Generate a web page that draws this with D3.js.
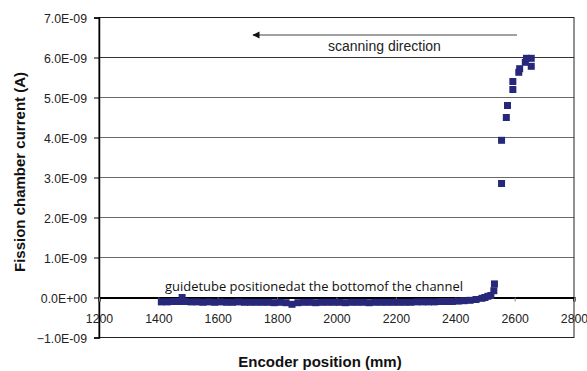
<!DOCTYPE html>
<html>
<head>
<meta charset="utf-8">
<script src="https://cdn.jsdelivr.net/npm/d3@7"></script>
<style>
  html, body { margin: 0; padding: 0; background: #fff; }
  svg { display: block; }
</style>
</head>
<body>
<svg id="chart" width="587" height="371"></svg>
<script>
// Encoder position (mm) and fission chamber current (nA) along the scan
const positionsLow = [1410, 1430, 1450, 1470, 1480, 1490, 1510, 1530, 1550, 1570, 1590, 1610, 1630, 1650,
  1670, 1690, 1710, 1730, 1750, 1770, 1790, 1810, 1830, 1850, 1870, 1890, 1910, 1930, 1950, 1970,
  1990, 2010, 2030, 2050, 2070, 2090, 2110, 2130, 2150, 2170, 2190, 2210, 2230, 2250, 2270, 2290,
  2310, 2330, 2350, 2370, 2390, 2410, 2430, 2450, 2470, 2490, 2500, 2510, 2520, 2530, 2532];
const currentLow = [-0.11, -0.11, -0.1, -0.1, 0.0, -0.1, -0.11, -0.11, -0.12, -0.11, -0.12, -0.11, -0.12, -0.12,
  -0.11, -0.12, -0.12, -0.12, -0.12, -0.12, -0.13, -0.12, -0.13, -0.17, -0.13, -0.12, -0.12, -0.13, -0.12, -0.12,
  -0.12, -0.12, -0.13, -0.12, -0.12, -0.12, -0.13, -0.12, -0.12, -0.12, -0.12, -0.12, -0.12, -0.12, -0.11, -0.11,
  -0.11, -0.11, -0.1, -0.1, -0.1, -0.09, -0.08, -0.07, -0.05, -0.02, 0.0, 0.03, 0.05, 0.17, 0.34];
const positionsHigh = [2556, 2556, 2572, 2576, 2594, 2594, 2614, 2617, 2636, 2640, 2656, 2656];
const currentHigh = [2.85, 3.93, 4.5, 4.8, 5.2, 5.4, 5.63, 5.72, 5.88, 5.98, 5.98, 5.78];

const xTicks = [1200, 1400, 1600, 1800, 2000, 2200, 2400, 2600, 2800];
const yTicks = [-1, 0, 1, 2, 3, 4, 5, 6, 7];

const yTitle = "Fission chamber current (A)";
const xTitle = "Encoder position (mm)";
const arrowLabel = "scanning direction";
const noteLabel = "guidetube positionedat the bottomof the channel";

const points = positionsLow.map((p, i) => ({ x: p, y: currentLow[i] }))
  .concat(positionsHigh.map((p, i) => ({ x: p, y: currentHigh[i] })));

const svg = d3.select("#chart");
const margin = { left: 99, top: 17.5, right: 13, bottom: 33.5 };
const W = 587 - margin.left - margin.right;
const H = 371 - margin.top - margin.bottom;

const x = d3.scaleLinear().domain([1200, 2800]).range([0, W]);
const y = d3.scaleLinear().domain([-1, 7]).range([H, 0]);

const g = svg.append("g").attr("transform", `translate(${margin.left},${margin.top})`);
const armFont = "'Liberation Sans', Arial, Helvetica, sans-serif";

// Format 7 -> "7.0E-09", 0 -> "0.0E+00", -1 -> "-1.0E-09"
function sci(v) {
  if (v === 0) return "0.0E+00";
  return d3.format(".1f")(v) + "E-09";
}

// horizontal gridlines
g.append("g").selectAll("line").data(yTicks.filter(t => t !== 0 && t !== -1 && t !== 7)).join("line")
  .attr("x1", 0).attr("x2", W)
  .attr("y1", d => y(d)).attr("y2", d => y(d))
  .attr("stroke", d => d === 6 ? "#333" : "#6a6a6a").attr("stroke-width", 1);

// plot frame
g.append("rect").attr("x", 0).attr("y", 0).attr("width", W).attr("height", H)
  .attr("fill", "none").attr("stroke", "#222").attr("stroke-width", 1);

// y axis
const yAxis = d3.axisLeft(y).tickValues(yTicks).tickFormat(sci).tickSize(5).tickPadding(7);
const yg = g.append("g").call(yAxis);
yg.select(".domain").attr("stroke", "#000").attr("stroke-width", 1.5);
yg.selectAll(".tick line").attr("stroke", "#000");
yg.selectAll(".tick text").attr("font-family", armFont).attr("font-size", 12.3).attr("fill", "#222")
  .attr("dy", "0.4em");

// x axis drawn along zero current
const xAxis = d3.axisBottom(x).tickValues(xTicks).tickFormat(d3.format("d")).tickSize(4).tickPadding(13);
const xg = g.append("g").attr("transform", `translate(0,${y(0)})`).call(xAxis);
xg.select(".domain").attr("stroke", "#000").attr("stroke-width", 2.2);
xg.selectAll(".tick line").attr("stroke", "#888");
xg.selectAll(".tick text").attr("font-family", armFont).attr("font-size", 12.3).attr("fill", "#222");

// data markers
const ms = 7;
g.append("g").selectAll("rect").data(points).join("rect")
  .attr("x", d => x(d.x) - ms / 2).attr("y", d => y(d.y) - ms / 2)
  .attr("width", ms).attr("height", ms)
  .attr("fill", "#27287a");

// scanning direction arrow (points toward lower encoder positions)
const defs = svg.append("defs");
defs.append("marker").attr("id", "head").attr("viewBox", "0 0 10 10")
  .attr("refX", 9).attr("refY", 5).attr("markerWidth", 8).attr("markerHeight", 6)
  .attr("orient", "auto")
  .append("path").attr("d", "M0,0 L10,5 L0,10 Z").attr("fill", "#111");
svg.append("line")
  .attr("x1", 517).attr("x2", 253).attr("y1", 35).attr("y2", 35)
  .attr("stroke", "#444").attr("stroke-width", 1.2)
  .attr("marker-end", "url(#head)");
svg.append("text").attr("x", 328).attr("y", 51)
  .attr("font-family", armFont).attr("font-size", 14).attr("fill", "#222")
  .text(arrowLabel);

// guide tube note
svg.append("text").attr("x", 165).attr("y", 291)
  .attr("font-family", "'Open Sans', 'Noto Sans', sans-serif").attr("font-size", 12.5).attr("fill", "#111")
  .attr("textLength", 298).attr("lengthAdjust", "spacingAndGlyphs")
  .text(noteLabel);

// axis titles
svg.append("text").attr("x", 320).attr("y", 367).attr("text-anchor", "middle")
  .attr("font-family", armFont).attr("font-size", 15).attr("font-weight", "bold").attr("fill", "#111")
  .text(xTitle);
svg.append("text").attr("transform", "translate(25,172) rotate(-90)").attr("text-anchor", "middle")
  .attr("font-family", armFont).attr("font-size", 15).attr("font-weight", "bold").attr("fill", "#111")
  .text(yTitle);
</script>
</body>
</html>
